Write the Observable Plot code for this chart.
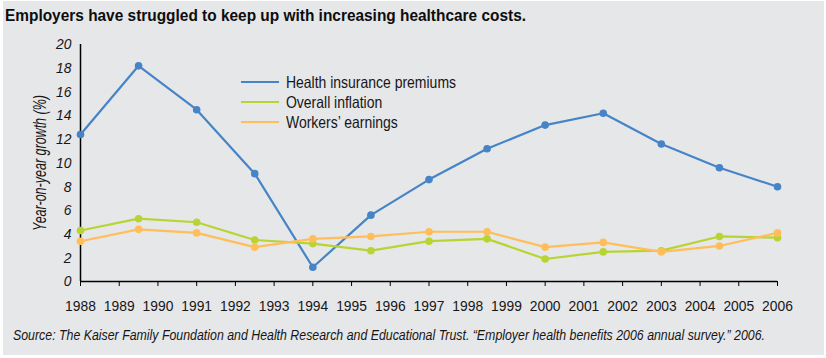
<!DOCTYPE html>
<html>
<head>
<meta charset="utf-8">
<script src="https://cdn.jsdelivr.net/npm/d3@7"></script>
<script src="https://cdn.jsdelivr.net/npm/@observablehq/plot@0.6"></script>
<style>
  body { margin: 0; background: #ffffff; }
  #wrap { position: relative; width: 826px; height: 358px; overflow: hidden; }
  #bg { position: absolute; left: 3px; top: 1px; width: 821px; height: 354px; background: #e6e7e9; }
  .sans { font-family: "Liberation Sans", Arial, sans-serif; color: #161616; }
  .fit { transform-origin: 0 50%; display: inline-block; }
  #title { position: absolute; left: 5px; top: 5px; font-size: 16.5px; font-weight: bold; white-space: nowrap; line-height: 20px; color: #0d0d0d; }
  #chart { position: absolute; left: 0; top: 30px; }
  #legend { position: absolute; left: 241px; top: 72px; font-size: 16.5px; }
  .row { position: relative; height: 20px; }
  .swatch { position: absolute; left: 0; top: 9px; width: 38px; height: 2px; }
  .lab { position: absolute; left: 45px; top: 0; white-space: nowrap; line-height: 20px; transform-origin: 0 50%; }
  #caption { position: absolute; left: 13px; top: 326px; font-size: 15.5px; font-style: italic; white-space: nowrap; line-height: 18px; }
</style>
</head>
<body>
<div id="wrap">
  <div id="bg"></div>
  <div id="title" class="sans fit">Employers have struggled to keep up with increasing healthcare costs.</div>
  <div id="chart"></div>
  <div id="legend" class="sans"></div>
  <div id="caption" class="sans fit">Source: The Kaiser Family Foundation and Health Research and Educational Trust. “Employer health benefits 2006 annual survey.” 2006.</div>
</div>
<script>
// ---- data ----
const surveyYears = [1988, 1989.5, 1991, 1992.5, 1994, 1995.5, 1997, 1998.5, 2000, 2001.5, 2003, 2004.5, 2006];
const premiums   = [12.4, 18.2, 14.5, 9.1, 1.2, 5.6, 8.6, 11.2, 13.2, 14.2, 11.6, 9.6, 8.0];
const inflation  = [4.3, 5.3, 5.0, 3.5, 3.2, 2.6, 3.4, 3.6, 1.9, 2.5, 2.6, 3.8, 3.7];
const earnings   = [3.4, 4.4, 4.1, 2.9, 3.6, 3.8, 4.2, 4.2, 2.9, 3.3, 2.5, 3.0, 4.1];
const seriesNames = ["Health insurance premiums", "Overall inflation", "Workers’ earnings"];
const seriesColors = ["#4684c7", "#b8d432", "#ffbe5a"];
const xTickLabels = [1988, 1989, 1990, 1991, 1992, 1993, 1994, 1995, 1996, 1997, 1998, 1999, 2000, 2001, 2002, 2003, 2004, 2005, 2006];
const yTickLabels = [0, 2, 4, 6, 8, 10, 12, 14, 16, 18, 20];
const yLabel = "Year-on-year growth (%)";

const seriesValues = [premiums, inflation, earnings];
const rows = [];
seriesNames.forEach((name, s) => {
  surveyYears.forEach((yr, i) => rows.push({series: name, year: yr, value: seriesValues[s][i]}));
});

const font = '"Liberation Sans", Arial, sans-serif';

const chart = Plot.plot({
  width: 826,
  height: 295,
  marginLeft: 80,
  marginRight: 49,
  marginTop: 14,
  marginBottom: 44,
  style: { background: "transparent", fontFamily: font, fontSize: "15px", color: "#161616", overflow: "visible" },
  x: { domain: [1988, 2006] },
  y: { domain: [0, 20] },
  color: { domain: seriesNames, range: seriesColors },
  marks: [
    Plot.axisX({ ticks: xTickLabels, tickFormat: d => String(d), tickSize: 5, tickPadding: 14, label: null, stroke: "#000" }),
    Plot.axisY({ ticks: yTickLabels, tickSize: 0, tickPadding: 9, label: yLabel, labelAnchor: "center", labelOffset: 47, labelArrow: "none", fontStyle: "italic" }),
    Plot.ruleY([0], { stroke: "#000", strokeWidth: 1.5 }),
    Plot.ruleX([1988], { y1: 0, y2: 20, stroke: "#000", strokeWidth: 1.5 }),
    Plot.line(rows, { x: "year", y: "value", z: "series", stroke: "series", strokeWidth: 2.2 }),
    Plot.dot(rows, { x: "year", y: "value", fill: "series", r: 3.8 })
  ]
});
document.getElementById("chart").appendChild(chart);

// condense texts to the reference's narrow typeface
chart.querySelectorAll("text").forEach(t => {
  const s = t.textContent;
  if (s === yLabel) {
    t.style.fontSize = "17.5px";
    t.setAttribute("textLength", 136);
    t.setAttribute("lengthAdjust", "spacingAndGlyphs");
  } else if (/^\d+$/.test(s)) {
    t.setAttribute("textLength", s.length * 7.7);
    t.setAttribute("lengthAdjust", "spacingAndGlyphs");
  }
});

const legend = document.getElementById("legend");
seriesNames.forEach((name, i) => {
  const row = document.createElement("div");
  row.className = "row";
  row.innerHTML = `<div class="swatch" style="background:${seriesColors[i]}"></div><div class="lab">${name}</div>`;
  legend.appendChild(row);
});

function fitWidth(el, target) {
  const w = el.getBoundingClientRect().width;
  if (w > 0) el.style.transform = `scaleX(${target / w})`;
}
fitWidth(document.getElementById("title"), 521);
fitWidth(document.getElementById("caption"), 752);
const labs = legend.querySelectorAll(".lab");
const w0 = labs[0].getBoundingClientRect().width;
const k = 170 / w0;
labs.forEach(l => l.style.transform = `scaleX(${k})`);
</script>
</body>
</html>
